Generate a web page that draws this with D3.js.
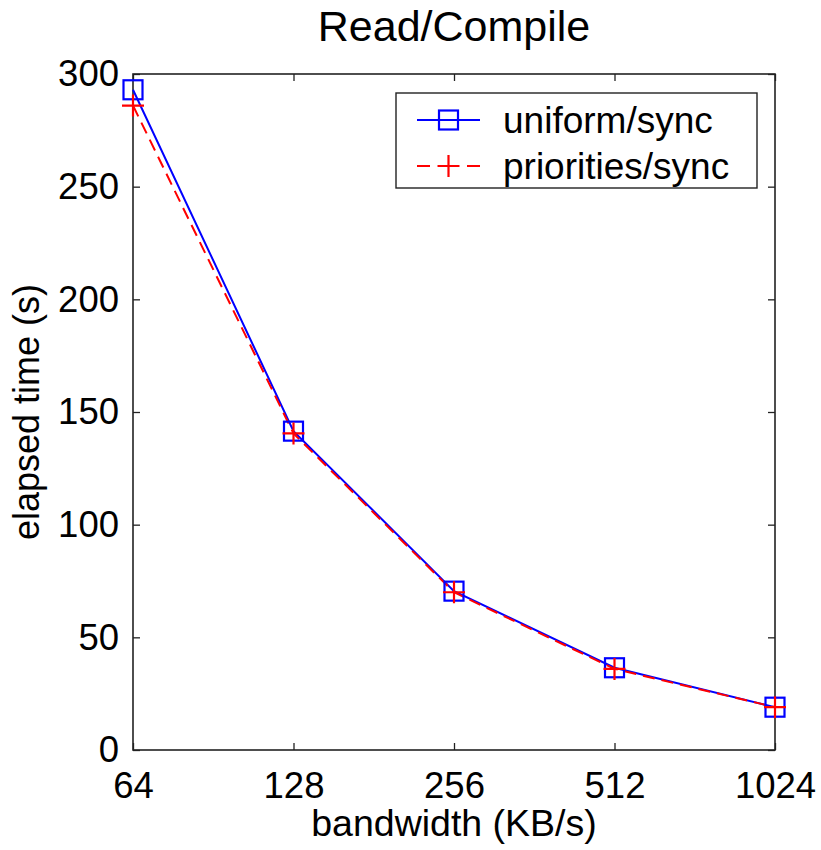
<!DOCTYPE html>
<html>
<head>
<meta charset="utf-8">
<script src="https://cdn.jsdelivr.net/npm/d3@7"></script>
<style>
  body { margin: 0; background: #fff; }
  text { font-family: "Liberation Sans", Arial, Helvetica, sans-serif; fill: #000; }
</style>
</head>
<body>
<div id="chart"></div>
<script>
// data
const bandwidth = [64, 128, 256, 512, 1024];
const uniformSync = [293, 141.5, 70.5, 36.5, 19];
const prioritiesSync = [286, 140.5, 70, 36, 19];
const seriesNames = ["uniform/sync", "priorities/sync"];
const yTicks = [0, 50, 100, 150, 200, 250, 300];

const width = 821, height = 850;
const margin = { top: 74, right: 46, bottom: 100, left: 133 };

const svg = d3.select("#chart").append("svg")
  .attr("width", width)
  .attr("height", height);

const x = d3.scaleLog().base(2)
  .domain([64, 1024])
  .range([margin.left, width - margin.right]);

const y = d3.scaleLinear()
  .domain([0, 300])
  .range([height - margin.bottom, margin.top]);

const axisColor = "#222";
const tickFont = 36.5;

function styleAxis(g) {
  g.select(".domain").remove();
  g.selectAll(".tick line").attr("stroke", axisColor).attr("stroke-width", 1.3);
  g.selectAll(".tick text").attr("font-size", tickFont).attr("fill", "#000")
    .style("font-family", '"Liberation Sans", Arial, Helvetica, sans-serif');
}

// bottom axis
svg.append("g")
  .attr("transform", `translate(0,${y(0)})`)
  .call(d3.axisBottom(x).tickValues(bandwidth).tickFormat(d3.format("d"))
    .tickSizeInner(-7).tickSizeOuter(0).tickPadding(22))
  .call(styleAxis);

// top axis (ticks only)
svg.append("g")
  .attr("transform", `translate(0,${y(300)})`)
  .call(d3.axisTop(x).tickValues(bandwidth).tickFormat("")
    .tickSizeInner(-7).tickSizeOuter(0))
  .call(styleAxis);

// left axis
svg.append("g")
  .attr("transform", `translate(${x(64)},0)`)
  .call(d3.axisLeft(y).tickValues(yTicks)
    .tickSizeInner(-7).tickSizeOuter(0).tickPadding(14))
  .call(styleAxis);

// right axis (ticks only)
svg.append("g")
  .attr("transform", `translate(${x(1024)},0)`)
  .call(d3.axisRight(y).tickValues(yTicks).tickFormat("")
    .tickSizeInner(-7).tickSizeOuter(0))
  .call(styleAxis);

// box
svg.append("rect")
  .attr("x", x(64))
  .attr("y", y(300))
  .attr("width", x(1024) - x(64))
  .attr("height", y(0) - y(300))
  .attr("fill", "none")
  .attr("stroke", axisColor)
  .attr("stroke-width", 1.6);

// title and labels
svg.append("text")
  .attr("x", (x(64) + x(1024)) / 2)
  .attr("y", 41)
  .attr("text-anchor", "middle")
  .attr("font-size", 43)
  .text("Read/Compile");

svg.append("text")
  .attr("x", (x(64) + x(1024)) / 2)
  .attr("y", 836)
  .attr("text-anchor", "middle")
  .attr("font-size", 37.5)
  .text("bandwidth (KB/s)");

svg.append("text")
  .attr("transform", "rotate(-90)")
  .attr("x", -(y(0) + y(300)) / 2)
  .attr("y", 39)
  .attr("text-anchor", "middle")
  .attr("font-size", 36)
  .text("elapsed time (s)");

// series
const line = d3.line()
  .x(d => x(d[0]))
  .y(d => y(d[1]));

const uData = d3.zip(bandwidth, uniformSync);
const pData = d3.zip(bandwidth, prioritiesSync);

svg.append("path")
  .datum(uData)
  .attr("d", line)
  .attr("fill", "none")
  .attr("stroke", "#0000ff")
  .attr("stroke-width", 2);

svg.append("path")
  .datum(pData)
  .attr("d", line)
  .attr("fill", "none")
  .attr("stroke", "#ff0000")
  .attr("stroke-width", 2)
  .attr("stroke-dasharray", "12,7");

const sq = 19, pl = 11;

function drawSquare(g, cx, cy) {
  g.append("rect")
    .attr("x", cx - sq / 2)
    .attr("y", cy - sq / 2)
    .attr("width", sq)
    .attr("height", sq)
    .attr("fill", "none")
    .attr("stroke", "#0000ff")
    .attr("stroke-width", 2.2);
}

function drawPlus(g, cx, cy) {
  g.append("path")
    .attr("d", `M${cx - pl},${cy}H${cx + pl}M${cx},${cy - pl}V${cy + pl}`)
    .attr("stroke", "#ff0000")
    .attr("stroke-width", 2.2)
    .attr("fill", "none");
}

const marks = svg.append("g");
uData.forEach(d => drawSquare(marks, x(d[0]), y(d[1])));
pData.forEach(d => drawPlus(marks, x(d[0]), y(d[1])));

// legend
const legend = svg.append("g");
legend.append("rect")
  .attr("x", 396)
  .attr("y", 93)
  .attr("width", 361)
  .attr("height", 95)
  .attr("fill", "#fff")
  .attr("stroke", axisColor)
  .attr("stroke-width", 1.4);

const rows = [
  { name: seriesNames[0], color: "#0000ff", dash: null, marker: drawSquare, y: 120 },
  { name: seriesNames[1], color: "#ff0000", dash: "13,12", marker: drawPlus, y: 166 }
];

rows.forEach(r => {
  legend.append("line")
    .attr("x1", 417).attr("x2", 480)
    .attr("y1", r.y).attr("y2", r.y)
    .attr("stroke", r.color)
    .attr("stroke-width", 2)
    .attr("stroke-dasharray", r.dash);
  r.marker(legend, 448.5, r.y);
  legend.append("text")
    .attr("x", 503)
    .attr("y", r.y)
    .attr("dy", "0.35em")
    .attr("font-size", 37)
    .text(r.name);
});
</script>
</body>
</html>
